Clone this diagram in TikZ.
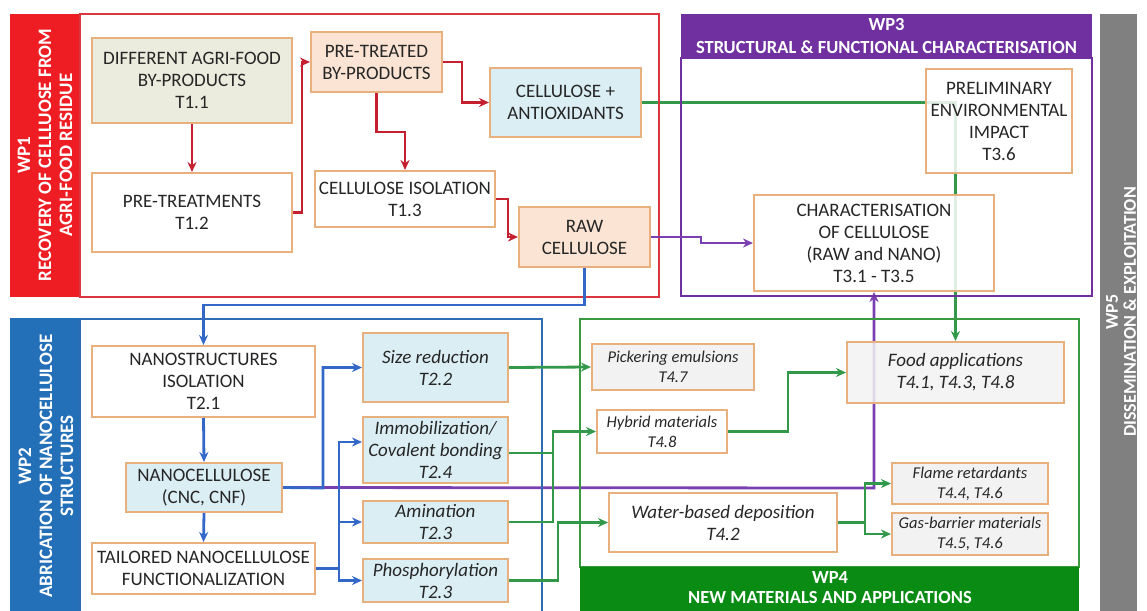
\documentclass[tikz,border=0pt]{standalone}
\usepackage{fontspec}
\setmainfont{Carlito}
\usetikzlibrary{arrows.meta,calc,backgrounds}
\definecolor{wpred}{HTML}{EE1D23}
\definecolor{redf}{HTML}{D9363E}
\definecolor{redc}{HTML}{C42030}
\definecolor{wpblue}{HTML}{2470B8}
\definecolor{bluef}{HTML}{2E6DB4}
\definecolor{bluec}{HTML}{3468C8}
\definecolor{wppurple}{HTML}{7030A0}
\definecolor{purc}{HTML}{7A3FB0}
\definecolor{wpgreen}{HTML}{0A8C14}
\definecolor{greenf}{HTML}{3A9A40}
\definecolor{greenc}{HTML}{33994A}
\definecolor{wpgrey}{HTML}{808080}
\definecolor{boxb}{HTML}{E8B07C}
\definecolor{lorange}{HTML}{FBE4D4}
\definecolor{lblue}{HTML}{DBEEF4}
\definecolor{lgreen}{HTML}{EBECDD}
\definecolor{lgrey}{HTML}{F2F2F2}
\definecolor{txt}{HTML}{262626}
\begin{document}
\begin{tikzpicture}[x=1pt,y=-1pt,
  box/.style={draw=boxb, line width=2pt, fill=white, align=center, inner sep=0pt, text=txt, font=\fontsize{19}{22}\selectfont},
  ibox/.style={box, font=\fontsize{19}{22}\selectfont\itshape},
  sbox/.style={box, fill=lgrey, font=\fontsize{16.5}{20}\selectfont\itshape},
  lbl/.style={text=white, align=center, inner sep=0pt, font=\fontsize{19}{21}\selectfont\bfseries},
  frm/.style={line width=2pt},
  arw/.style={-{Stealth[length=10pt,width=9pt]}},
  rc/.style={draw=redc, line width=2.8pt, arw},
  bc/.style={draw=bluec, line width=2.8pt, arw},
  pc/.style={draw=purc, line width=2.8pt, arw},
  gc/.style={draw=greenc, line width=2.8pt, arw},
  gl/.style={draw=greenc, line width=2.8pt}
]
\useasboundingbox (0,0) rectangle (1147,610);
\begin{scope}
\clip (0,0) rectangle (1147,610);
% frames
\fill[wpred] (10,14) rectangle (80,297);
\draw[redf,frm] (80,14) rectangle (659,297);
\fill[wppurple] (681,14) rectangle (1092,58);
\draw[wppurple,frm] (681,58) rectangle (1092,296);
\fill[wpgrey] (1100,14) rectangle (1137,615);
\fill[wpblue] (10,318) rectangle (80,615);
\draw[bluef,frm] (80,319) rectangle (542,625);
\draw[greenf,frm] (580,319) rectangle (1079,567);
\fill[wpgreen] (580,567) rectangle (1079,615);
% labels
\node[lbl, rotate=90] (wp1t) at (45,155) {WP1\\RECOVERY OF CELLLUOSE FROM\\AGRI-FOOD RESIDUE};
\node[lbl, rotate=90] (wp2t) at (46,466) {WP2\\ABRICATION OF NANOCELLULOSE\\STRUCTURES};
\node[lbl, font=\fontsize{18.5}{23}\selectfont\bfseries] (wp3t) at (886.5,36) {WP3\\STRUCTURAL \& FUNCTIONAL CHARACTERISATION};
\node[lbl, font=\fontsize{18.5}{20}\selectfont\bfseries] (wp4t) at (830,588) {WP4\\NEW MATERIALS AND APPLICATIONS};
\node[lbl, rotate=90, font=\fontsize{18}{18}\selectfont\bfseries] (wp5t) at (1121,312) {WP5\\DISSEMINATION \& EXPLOITATION};
\end{scope}

% WP1 nodes
\node[box, fill=lgreen, minimum width=200, minimum height=85] (diff) at (192,80.5) {DIFFERENT AGRI-FOOD\\BY-PRODUCTS\\T1.1};
\node[box, minimum width=200, minimum height=79] (pretreat) at (192,212.5) {PRE-TREATMENTS\\T1.2};
\node[box, fill=lorange, minimum width=131, minimum height=60] (pretreated) at (376.5,62) {PRE-TREATED\\BY-PRODUCTS};
\node[box, fill=lblue, minimum width=151, minimum height=69] (antiox) at (565.5,102.5) {CELLULOSE +\\ANTIOXIDANTS};
\node[box, minimum width=180, minimum height=56] (isol) at (405,199) {CELLULOSE ISOLATION\\T1.3};
\node[box, fill=lorange, minimum width=131, minimum height=60] (raw) at (584.5,237) {RAW\\CELLULOSE};
% WP3 nodes
\node[box, fill opacity=0.85, text opacity=1, minimum width=146, minimum height=104] (prelim) at (999,121) {PRELIMINARY\\ENVIRONMENTAL\\IMPACT\\T3.6};
\node[box, fill opacity=0.85, text opacity=1, minimum width=240, minimum height=96] (charact) at (874,243) {CHARACTERISATION\\OF CELLULOSE\\(RAW and NANO)\\T3.1 - T3.5};
% WP2 nodes
\node[box, minimum width=223, minimum height=71] (nanoiso) at (203.5,381.5) {NANOSTRUCTURES\\ISOLATION\\T2.1};
\node[box, fill=lblue, minimum width=156, minimum height=49] (nanocell) at (204,487.5) {NANOCELLULOSE\\(CNC, CNF)};
\node[box, minimum width=223, minimum height=51] (tailored) at (203.5,568.5) {TAILORED NANOCELLULOSE\\FUNCTIONALIZATION};
\node[ibox, fill=lblue, minimum width=145, minimum height=69] (size) at (435.5,367.5) {Size reduction\\T2.2};
\node[ibox, fill=lblue, minimum width=145, minimum height=66] (immob) at (435.5,450) {Immobilization/\\Covalent bonding\\T2.4};
\node[ibox, fill=lblue, minimum width=145, minimum height=42] (amin) at (435.5,522) {Amination\\T2.3};
\node[ibox, fill=lblue, minimum width=145, minimum height=43] (phos) at (435.5,580.5) {Phosphorylation\\T2.3};
% WP4 nodes
\node[sbox, minimum width=162, minimum height=46] (pick) at (673,367) {Pickering emulsions\\T4.7};
\node[sbox, fill=white, minimum width=130, minimum height=43] (hybrid) at (662,431.5) {Hybrid materials\\T4.8};
\node[ibox, minimum width=228, minimum height=59] (water) at (723,522.5) {Water-based deposition\\T4.2};
\node[ibox, fill=lgrey, fill opacity=0.85, text opacity=1, minimum width=217, minimum height=61] (food) at (955.5,372.5) {Food applications\\T4.1, T4.3, T4.8};
\node[sbox, minimum width=156, minimum height=41] (flame) at (970,483.5) {Flame retardants\\T4.4, T4.6};
\node[sbox, minimum width=156, minimum height=42] (gas) at (970,534) {Gas-barrier materials\\T4.5, T4.6};

% lines running behind boxes
\begin{pgfonlayer}{background}
\draw[gc] (antiox.east) -| (food.north);
\draw[pc] (nanocell.east) -- (874,488) -- (charact.south);
\end{pgfonlayer}

% red connectors
\draw[rc] (diff.south) -- (pretreat.north);
\draw[rc] (pretreat.east) -- (302,212.5) |- (pretreated.west);
\draw[rc] (pretreated.east) -- (462,62) |- (antiox.west);
\draw[rc] (pretreated.south) -- (376.5,132) -| (isol.north);
\draw[rc] (isol.east) -- (508,199) |- (raw.west);
% blue connectors
\draw[bc] (raw.south) -- (584.5,305) -| (nanoiso.north);
\draw[bc] (nanoiso.south) -- (nanocell.north);
\draw[bc] (nanocell.south) -- (tailored.north);
\draw[bc] (nanocell.east) -- (323,488) |- (size.west);
\coordinate (bj) at (339,568.5);
\draw[bc] (tailored.east) -- (bj) |- ($(immob.west)+(0,-8)$);
\draw[bc] (bj) |- (amin.west);
\draw[bc] (bj) |- (phos.west);
% purple connector
\draw[pc] (raw.east) -- (701,237) -- (701,243) -- (charact.west);
% green connectors
\draw[gc] (size.east) -- (pick.west);
\coordinate (gj) at (553,431.5);
\draw[gl] ($(immob.east)+(0,3)$) -- (554.4,453);
\draw[gc] (amin.east) -| (gj) -- (hybrid.west);
\draw[gc] (phos.east) -- (558,580.5) |- (water.west);
\draw[gc] (hybrid.east) -- (788,431.5) |- (food.west);
\coordinate (wj) at (865,522.5);
\draw[gc] (water.east) -- (wj) |- (flame.west);
\draw[gc] (wj) |- (gas.west);
\end{tikzpicture}
\end{document}
